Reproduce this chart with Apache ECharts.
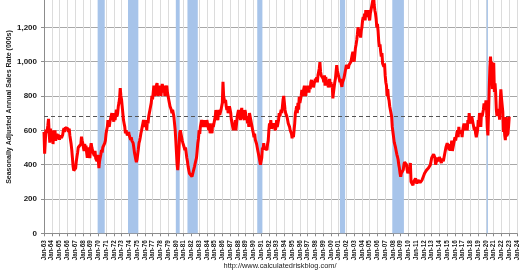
<!DOCTYPE html>
<html><head><meta charset="utf-8">
<script src="https://cdn.jsdelivr.net/npm/echarts@6/dist/echarts.min.js"></script>
<style>html,body{margin:0;padding:0;background:#fff}#c{width:520px;height:272px}</style>
</head><body><div id="c"></div>
<script>
// Monthly new home sales, SAAR (000s), Jan 1963 - Jan 2023
const sales1963_1969 = [
 591,464,461,605,586,599,630,667,580,528,610,540,
 560,600,520,590,555,600,540,560,580,548,575,562,
 545,570,580,555,560,575,600,612,590,615,605,618,
 612,610,590,610,570,560,520,485,440,390,365,358,
 362,380,420,446,470,500,504,490,510,520,563,540,
 525,500,480,520,490,510,470,440,480,500,470,438,
 500,525,500,510,470,466,450,480,437,440,420,456];
const sales1970s = [
 430,380,420,440,460,485,470,500,490,510,525,540,
 580,602,620,660,640,620,650,640,660,700,660,680,
 650,700,660,690,720,680,700,740,760,790,846,800,
 780,740,700,660,640,620,583,600,590,570,560,590,
 570,560,545,560,540,530,525,500,470,450,430,415,
 430,460,490,525,540,560,583,600,620,640,660,640,
 620,660,640,600,660,640,680,700,720,740,760,800,
 780,820,860,800,840,850,830,875,800,840,860,820,
 860,800,840,870,850,820,860,800,840,830,860,820,
 800,780,760,740,737,720,700,720,700,680,640,602];
const sales1980s = [
 540,470,400,368,420,500,583,600,580,560,540,525,
 525,500,485,500,470,440,420,390,380,350,340,360,
 340,330,345,360,350,390,408,400,440,480,525,550,
 600,580,620,640,660,640,620,640,660,620,640,620,
 660,640,620,600,640,583,600,620,583,640,620,640,
 660,680,718,690,700,660,700,718,690,700,720,740,
 760,883,800,780,760,777,740,718,730,700,718,740,
 730,700,660,640,630,600,640,620,660,600,640,680,
 690,718,700,680,660,700,730,690,700,680,660,718,
 700,660,680,640,660,620,700,680,660,640,620,600];
const sales1990s = [
 583,560,580,545,540,520,500,480,460,440,420,400,
 420,440,500,485,525,500,490,510,500,485,520,540,
 600,640,620,660,610,600,620,640,630,640,600,620,
 660,620,640,660,700,680,690,720,700,740,780,800,
 760,720,700,690,680,660,640,650,620,600,590,580,
 554,580,560,600,640,700,718,740,700,760,720,795,
 760,780,800,835,800,820,840,860,830,800,840,820,
 860,840,820,860,840,880,893,860,880,850,870,880,
 900,880,910,880,920,940,960,997,940,920,930,910,
 900,880,920,860,910,890,860,880,850,870,900,860];
const sales2000s = [
 880,850,870,786,820,850,880,900,940,980,950,930,
 920,900,880,900,870,853,880,870,900,920,940,960,
 980,970,990,960,980,990,970,1000,1020,1040,1058,1020,
 1000,1040,1080,1100,1126,1160,1200,1180,1150,1170,1140,1180,
 1200,1240,1260,1240,1280,1240,1300,1260,1280,1260,1300,1260,
 1240,1280,1300,1320,1340,1360,1389,1330,1300,1280,1250,1200,
 1220,1180,1120,1087,1100,1060,1030,1050,990,1000,970,990,
 920,880,860,800,840,790,775,740,720,700,680,620,
 590,560,530,520,500,480,460,446,430,400,380,350,
 330,350,340,350,370,400,415,420,410,400,370,350];
const sales2010s = [
 345,360,390,410,300,310,290,280,300,290,300,320,
 310,290,300,310,305,300,295,290,300,310,320,330,
 330,350,357,360,368,360,370,380,390,380,400,408,
 440,430,450,460,466,440,400,390,408,440,430,420,
 445,430,420,410,435,445,420,440,460,470,500,505,
 525,530,500,485,520,480,510,540,480,500,520,540,
 560,540,540,583,600,560,620,580,600,580,600,560,
 600,620,640,600,620,640,620,600,660,640,700,660,
 660,640,680,660,640,620,600,620,580,560,580,600,
 660,640,700,680,620,700,680,700,720,757,720,740];
const sales2020s = [
 774,714,615,570,705,839,965,1030,959,999,841,862,
 993,823,873,817,720,683,702,701,725,662,765,839,
 788,790,709,591,636,571,543,677,567,577,582,625,
 680];
const latestLevel = 683;
const recessions = [
 ['Dec-69','Nov-70'], ['Nov-73','Mar-75'], ['Jan-80','Jul-80'],
 ['Jul-81','Nov-82'], ['Jul-90','Mar-91'], ['Mar-01','Nov-01'],
 ['Dec-07','Jun-09'], ['Feb-20','Apr-20']];
const monthNames = ['Jan','Feb','Mar','Apr','May','Jun','Jul','Aug','Sep','Oct','Nov','Dec'];

const sales = [].concat(sales1963_1969, sales1970s, sales1980s, sales1990s, sales2000s, sales2010s, sales2020s);
const categories = [];
for (let y = 1963; y <= 2024; y++) {
  for (let m = 0; m < 12; m++) {
    categories.push(monthNames[m] + '-' + String(y % 100).padStart(2, '0'));
    if (y === 2024) break;
  }
}

const chart = echarts.init(document.getElementById('c'), null, {renderer: 'canvas'});
chart.setOption({
  animation: false,
  grid: {left: 44, right: 3, top: -7, bottom: 38.7, containLabel: false, outerBoundsMode: 'none'},
  xAxis: {
    type: 'category', data: categories, boundaryGap: false,
    axisLine: {lineStyle: {color: '#8c8c8c', width: 1}},
    axisTick: {show: true, interval: 11, length: 3, lineStyle: {color: '#8c8c8c'}},
    axisLabel: {interval: 11, rotate: 90, margin: 7, fontSize: 6.3, fontWeight: 'bold',
      fontFamily: 'Liberation Sans, Arial, sans-serif', color: '#1a1a1a'},
    splitLine: {show: true, interval: 11, lineStyle: {color: '#dcdcdc', width: 1}}
  },
  yAxis: {
    type: 'value', min: 0, max: 1400, interval: 200,
    axisLine: {show: true, lineStyle: {color: '#8c8c8c'}},
    axisTick: {show: true, length: 3, lineStyle: {color: '#8c8c8c'}},
    axisLabel: {margin: 7, fontSize: 8, fontWeight: 'bold', fontFamily: 'Liberation Sans, Arial, sans-serif',
      color: '#1a1a1a', formatter: v => v.toLocaleString('en-US')},
    splitLine: {lineStyle: {color: '#a8a8a8', width: 1}}
  },
  series: [{
    type: 'line', data: sales, showSymbol: false, symbol: 'none',
    lineStyle: {color: '#ff0000', width: 3}, z: 5,
    markArea: {silent: true, itemStyle: {color: '#a7c4ea', opacity: 1},
      data: recessions.map(r => [{xAxis: r[0]}, {xAxis: r[1]}])},
    markLine: {silent: true, symbol: ['none','none'], label: {show: false},
      lineStyle: {color: '#555555', type: [4, 3], width: 1},
      data: [{yAxis: latestLevel}]}
  }],
  graphic: [
    {type: 'text', rotation: Math.PI / 2, x: 9, y: 107,
     style: {text: 'Seasonally Adjusted Annual Sales Rate (000s)', font: 'bold 7px "Liberation Sans", Arial, sans-serif',
       fill: '#1a1a1a', textAlign: 'center', textVerticalAlign: 'middle'}},
    {type: 'text', x: 280, y: 266,
     style: {text: 'http://www.calculatedriskblog.com/', font: '7.4px "Liberation Sans", Arial, sans-serif',
       fill: '#1a1a1a', textAlign: 'center', textVerticalAlign: 'middle'}}
  ]
});
</script></body></html>
